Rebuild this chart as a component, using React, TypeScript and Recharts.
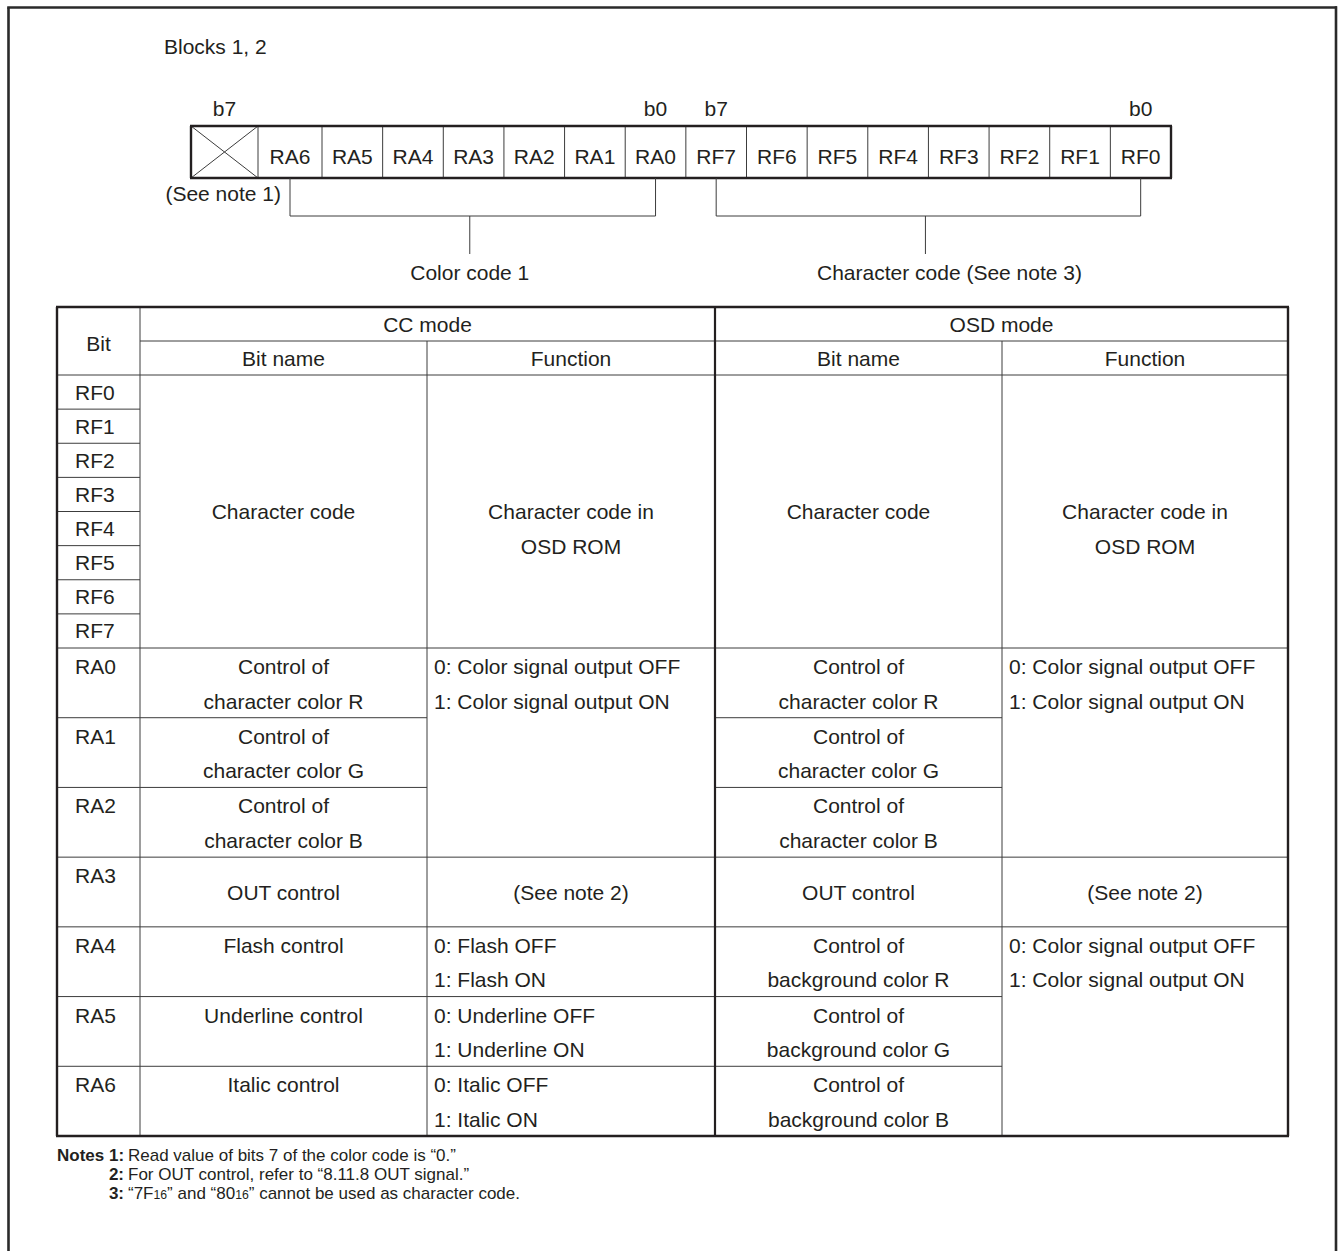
import { ComposedChart, ReferenceLine, Scatter, XAxis, YAxis } from 'recharts';

const W = 1339;
const H = 1251;
const FONT = '"Liberation Sans", Arial, Helvetica, sans-serif';
const INK = '#231f20';
const THIN = '#3c3c3c';

// register picture
const blockTitle = 'Blocks 1, 2';
const colorBits = ['RA6', 'RA5', 'RA4', 'RA3', 'RA2', 'RA1', 'RA0'];
const charBits = ['RF7', 'RF6', 'RF5', 'RF4', 'RF3', 'RF2', 'RF1', 'RF0'];
const msbLabel = 'b7';
const lsbLabel = 'b0';
const unusedNote = '(See note 1)';
const fieldNames = ['Color code 1', 'Character code (See note 3)'];

// table
const bitHeader = 'Bit';
const modeNames = ['CC mode', 'OSD mode'];
const columnNames = ['Bit name', 'Function'];
const rowBits = [
  'RF0', 'RF1', 'RF2', 'RF3', 'RF4', 'RF5', 'RF6', 'RF7',
  'RA0', 'RA1', 'RA2', 'RA3', 'RA4', 'RA5', 'RA6',
];

// [first row, last row, text lines, vertical placement]
type Cell = [number, number, string[], 'mid' | 'top'];

const ccNameCells: Cell[] = [
  [0, 7, ['Character code'], 'mid'],
  [8, 8, ['Control of', 'character color R'], 'top'],
  [9, 9, ['Control of', 'character color G'], 'top'],
  [10, 10, ['Control of', 'character color B'], 'top'],
  [11, 11, ['OUT control'], 'mid'],
  [12, 12, ['Flash control'], 'top'],
  [13, 13, ['Underline control'], 'top'],
  [14, 14, ['Italic control'], 'top'],
];
const ccFunctionCells: Cell[] = [
  [0, 7, ['Character code in', 'OSD ROM'], 'mid'],
  [8, 10, ['0: Color signal output OFF', '1: Color signal output ON'], 'top'],
  [11, 11, ['(See note 2)'], 'mid'],
  [12, 12, ['0: Flash OFF', '1: Flash ON'], 'top'],
  [13, 13, ['0: Underline OFF', '1: Underline ON'], 'top'],
  [14, 14, ['0: Italic OFF', '1: Italic ON'], 'top'],
];
const osdNameCells: Cell[] = [
  [0, 7, ['Character code'], 'mid'],
  [8, 8, ['Control of', 'character color R'], 'top'],
  [9, 9, ['Control of', 'character color G'], 'top'],
  [10, 10, ['Control of', 'character color B'], 'top'],
  [11, 11, ['OUT control'], 'mid'],
  [12, 12, ['Control of', 'background color R'], 'top'],
  [13, 13, ['Control of', 'background color G'], 'top'],
  [14, 14, ['Control of', 'background color B'], 'top'],
];
const osdFunctionCells: Cell[] = [
  [0, 7, ['Character code in', 'OSD ROM'], 'mid'],
  [8, 10, ['0: Color signal output OFF', '1: Color signal output ON'], 'top'],
  [11, 11, ['(See note 2)'], 'mid'],
  [12, 14, ['0: Color signal output OFF', '1: Color signal output ON'], 'top'],
];

// notes
type Part = string | { sub: string };
const notesLead = 'Notes 1:';
const noteMarks = ['1:', '2:', '3:'];
const noteTexts: Part[][] = [
  ['Read value of bits 7 of the color code is “0.”'],
  ['For OUT control, refer to “8.11.8 OUT signal.”'],
  ['“7F', { sub: '16' }, '” and “80', { sub: '16' }, '” cannot be used as character code.'],
];

// ---------- layout ----------
type Seg = { x1: number; y1: number; x2: number; y2: number; w: number; c: string };
type Txt = { x: number; y: number; parts: Part[]; anchor: string; size: number; bold?: boolean };

const segs: Seg[] = [];
const texts: Txt[] = [];
const line = (x1: number, y1: number, x2: number, y2: number, w = 1, c = THIN) =>
  segs.push({ x1, y1, x2, y2, w, c });
const put = (x: number, y: number, parts: Part[], anchor = 'middle', size = 21, bold = false) =>
  texts.push({ x, y, parts, anchor, size, bold });
const mid = (center: number, size = 21) => center + size * 0.36;

// page frame (open at the bottom)
line(8.5, H, 8.5, 7.5, 2.6, '#2a2a2a');
line(7.2, 7.5, 1337, 7.5, 2.6, '#2a2a2a');
line(1336, 6.2, 1336, H, 2.6, '#2a2a2a');

put(164, 54, [blockTitle], 'start');

// register boxes
const regTop = 126;
const regBottom = 178;
const regBits = ['', ...colorBits, ...charBits];
const edges = [191, 258, 322];
const step = (1171 - 322) / (regBits.length - 2);
for (let k = 1; k <= regBits.length - 2; k++) edges.push(322 + k * step);
const centers = regBits.map((_, i) => (edges[i] + edges[i + 1]) / 2);

edges.slice(1, -1).forEach((x) => line(x, regTop, x, regBottom));
line(edges[0], regTop, edges[1], regBottom);
line(edges[0], regBottom, edges[1], regTop);
line(edges[0] - 1, regTop, edges[edges.length - 1] + 1, regTop, 2.4, INK);
line(edges[0] - 1, regBottom, edges[edges.length - 1] + 1, regBottom, 2.4, INK);
line(edges[0], regTop, edges[0], regBottom, 2.4, INK);
line(edges[edges.length - 1], regTop, edges[edges.length - 1], regBottom, 2.4, INK);

regBits.forEach((b, i) => {
  if (b) put(centers[i], 164, [b]);
});
const lastColor = colorBits.length;
put(centers[0], 116, [msbLabel]);
put(centers[lastColor], 116, [lsbLabel]);
put(centers[lastColor + 1], 116, [msbLabel]);
put(centers[regBits.length - 1], 116, [lsbLabel]);
put(281, 201, [unusedNote], 'end');

// field brackets
const brackets = [
  [centers[1], centers[lastColor]],
  [centers[lastColor + 1], centers[regBits.length - 1]],
];
brackets.forEach(([a, b], i) => {
  const y = 216;
  const stem = (a + b) / 2 - 3;
  line(a, regBottom, a, y);
  line(b, regBottom, b, y);
  line(a, y, b, y);
  line(stem, y, stem, 254);
  if (i === 0) put(stem, 280, [fieldNames[i]]);
  else put(817, 280, [fieldNames[i]], 'start');
});

// table grid
const cols = [57, 140, 427, 715, 1002, 1288];
const tTop = 307;
const hMid = 341;
const hBot = 375;
const rfBottom = 648;
const tBottom = 1136;
const rfCount = rowBits.filter((b) => b.startsWith('RF')).length;
const raCount = rowBits.length - rfCount;
const rowEdges: number[] = [];
for (let i = 0; i < rfCount; i++) rowEdges.push(hBot + (i * (rfBottom - hBot)) / rfCount);
for (let j = 0; j <= raCount; j++) rowEdges.push(rfBottom + (j * (tBottom - rfBottom)) / raCount);

put((cols[0] + cols[1]) / 2, mid(343), [bitHeader]);
modeNames.forEach((m, i) => {
  const l = cols[1 + i * 2];
  const r = cols[3 + i * 2];
  put((l + r) / 2, mid(324), [m]);
  columnNames.forEach((c, j) => {
    put((cols[1 + i * 2 + j] + cols[2 + i * 2 + j]) / 2, mid(358), [c]);
  });
});

rowBits.forEach((b, i) => {
  const top = rowEdges[i];
  const bottom = rowEdges[i + 1];
  const y = b.startsWith('RF') ? (top + bottom) / 2 : top + 18.5;
  put(75, mid(y), [b], 'start');
});

// row separators: bit column always, other columns only at cell boundaries
const columnsCells = [ccNameCells, ccFunctionCells, osdNameCells, osdFunctionCells];
for (let r = 1; r < rowBits.length; r++) {
  const y = rowEdges[r];
  line(cols[0], y, cols[1], y);
  columnsCells.forEach((cells, ci) => {
    if (cells.some((c) => c[0] === r)) line(cols[ci + 1], y, cols[ci + 2], y);
  });
}
line(cols[1], hMid, cols[5], hMid);
line(cols[0], hBot, cols[5], hBot);
line(cols[1], tTop, cols[1], tBottom);
line(cols[2], hMid, cols[2], tBottom);
line(cols[4], hMid, cols[4], tBottom);
line(cols[3], tTop, cols[3], tBottom, 2.2, INK);
line(cols[0] - 1, tTop, cols[5] + 1, tTop, 2.4, INK);
line(cols[0] - 1, tBottom, cols[5] + 1, tBottom, 2.4, INK);
line(cols[0], tTop, cols[0], tBottom, 2.4, INK);
line(cols[5], tTop, cols[5], tBottom, 2.4, INK);

columnsCells.forEach((cells, ci) => {
  const l = cols[ci + 1];
  const r = cols[ci + 2];
  cells.forEach(([from, to, lines, v]) => {
    const top = rowEdges[from];
    const bottom = rowEdges[to + 1];
    const first = v === 'mid' ? (top + bottom) / 2 : top + 18.5;
    lines.forEach((t, k) => {
      const left = /^\d:/.test(t);
      put(left ? l + 7 : (l + r) / 2, mid(first + k * 34.5), [t], left ? 'start' : 'middle');
    });
  });
});

// notes
const noteBase = 1161;
const noteGap = 19;
const noteMarkEnd = 124;
noteTexts.forEach((parts, i) => {
  const y = noteBase + i * noteGap;
  if (i === 0) put(57, y, [notesLead], 'start', 17, true);
  else put(noteMarkEnd, y, [noteMarks[i]], 'end', 17, true);
  put(noteMarkEnd + 4, y, parts, 'start', 17);
});

function TextMark(props: any) {
  const { cx, cy, payload } = props;
  return (
    <text
      x={cx}
      y={cy}
      textAnchor={payload.anchor}
      fontFamily={FONT}
      fontSize={payload.size}
      fontWeight={payload.bold ? 700 : 400}
      fill={INK}
    >
      {payload.parts.map((p: Part, i: number) =>
        typeof p === 'string' ? (
          <tspan key={i}>{p}</tspan>
        ) : (
          <tspan key={i} fontSize={payload.size * 0.72}>
            {p.sub}
          </tspan>
        ),
      )}
    </text>
  );
}

export default function App() {
  return (
    <div style={{ position: 'absolute', left: 0, top: 0, width: W, height: H, background: '#fff' }}>
      <ComposedChart width={W} height={H} margin={{ top: 0, right: 0, bottom: 0, left: 0 }}>
        <XAxis type="number" dataKey="x" domain={[0, W]} hide allowDataOverflow />
        <YAxis type="number" dataKey="y" domain={[0, H]} reversed hide allowDataOverflow />
        {segs.map((s, i) => (
          <ReferenceLine
            key={i}
            segment={[
              { x: s.x1, y: s.y1 },
              { x: s.x2, y: s.y2 },
            ]}
            stroke={s.c}
            strokeWidth={s.w}
            ifOverflow="visible"
          />
        ))}
        <Scatter data={texts} dataKey="y" shape={TextMark} isAnimationActive={false} />
      </ComposedChart>
    </div>
  );
}
